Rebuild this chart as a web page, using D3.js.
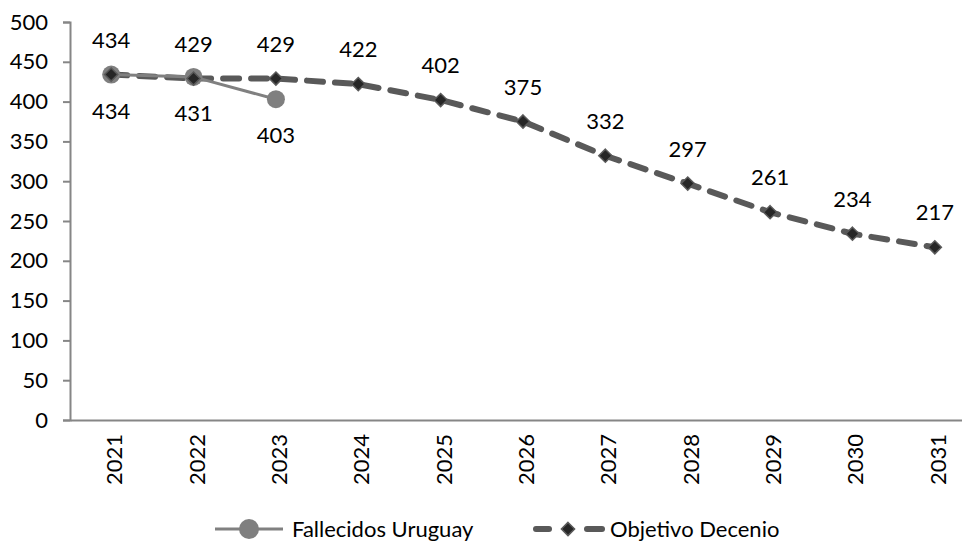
<!DOCTYPE html>
<html>
<head>
<meta charset="utf-8">
<script src="https://cdn.jsdelivr.net/npm/d3@7"></script>
<style>
  body { margin: 0; background: #fff; }
  text { font-family: Lato, "Open Sans", sans-serif; fill: #000; }
</style>
</head>
<body>
<script>
var years = ["2021", "2022", "2023", "2024", "2025", "2026", "2027", "2028", "2029", "2030", "2031"];
var fallecidos = [434, 431, 403];
var objetivo = [434, 429, 429, 422, 402, 375, 332, 297, 261, 234, 217];
var yTicks = [0, 50, 100, 150, 200, 250, 300, 350, 400, 450, 500];

var w = 962;
var h = 541;
var fs = "22px";

var svg = d3.select("body")
    .append("svg")
    .attr("width", w)
    .attr("height", h);

// plot area runs past the right edge, like the reference crop
var x = d3.scaleBand()
    .domain(years)
    .range([70, 976]);

var y = d3.scaleLinear()
    .domain([0, 500])
    .range([420, 22]);

function cx(d, i) { return x(years[i]) + x.bandwidth() / 2; }

// y axis
var yAxis = svg.append("g")
    .attr("transform", "translate(70,0)")
    .call(d3.axisLeft(y).tickValues(yTicks).tickSize(7).tickPadding(15));
yAxis.select(".domain").attr("stroke", "#868686").attr("stroke-width", 2);
yAxis.selectAll(".tick line").attr("stroke", "#868686").attr("stroke-width", 2);
yAxis.selectAll(".tick text").style("font-size", fs).attr("fill", "#000");

// x axis
var xAxis = svg.append("g")
    .attr("transform", "translate(0,420)")
    .call(d3.axisBottom(x).tickSize(0).tickSizeOuter(0));
xAxis.select(".domain").attr("stroke", "#868686").attr("stroke-width", 2);
xAxis.selectAll(".tick text")
    .style("font-size", fs)
    .attr("fill", "#000")
    .attr("text-anchor", "end")
    .attr("dx", 0)
    .attr("dy", 0)
    .attr("transform", "translate(8,14) rotate(-90)");

// Objetivo Decenio - dashed line with diamonds
var lineObj = d3.line()
    .x(cx)
    .y(function(d) { return y(d); });

svg.append("path")
    .attr("d", lineObj(objetivo))
    .attr("fill", "none")
    .attr("stroke", "#595959")
    .attr("stroke-width", 6)
    .attr("stroke-linecap", "round")
    .attr("stroke-dasharray", "16,12");

// Fallecidos Uruguay - solid line with circles
svg.append("path")
    .attr("d", lineObj(fallecidos))
    .attr("fill", "none")
    .attr("stroke", "#808080")
    .attr("stroke-width", 3);

svg.selectAll(".fcirc")
    .data(fallecidos)
    .enter().append("circle")
    .attr("class", "fcirc")
    .attr("cx", cx)
    .attr("cy", function(d) { return y(d); })
    .attr("r", 9)
    .attr("fill", "#7f7f7f");

var diamond = d3.symbol().type(d3.symbolDiamond2).size(110);

svg.selectAll(".odia")
    .data(objetivo)
    .enter().append("path")
    .attr("class", "odia")
    .attr("d", diamond)
    .attr("transform", function(d, i) { return "translate(" + cx(d, i) + "," + y(d) + ")"; })
    .attr("fill", "#262626")
    .attr("stroke", "#595959")
    .attr("stroke-width", 1.5);

// data labels
svg.selectAll(".olab")
    .data(objetivo)
    .enter().append("text")
    .attr("class", "olab")
    .attr("x", cx)
    .attr("y", function(d) { return y(d) - 27; })
    .attr("text-anchor", "middle")
    .style("font-size", fs)
    .text(function(d) { return d; });

svg.selectAll(".flab")
    .data(fallecidos)
    .enter().append("text")
    .attr("class", "flab")
    .attr("x", cx)
    .attr("y", function(d) { return y(d) + 44; })
    .attr("text-anchor", "middle")
    .style("font-size", fs)
    .text(function(d) { return d; });

// legend
var lg = svg.append("g").attr("transform", "translate(0,529)");
lg.append("line")
    .attr("x1", 215).attr("x2", 283)
    .attr("stroke", "#808080").attr("stroke-width", 3);
lg.append("circle")
    .attr("cx", 249).attr("r", 10).attr("fill", "#7f7f7f");
lg.append("text")
    .attr("x", 292).attr("dy", "0.35em")
    .style("font-size", fs)
    .text("Fallecidos Uruguay");

[[536, 549], [587, 602]].forEach(function(seg) {
    lg.append("line")
        .attr("x1", seg[0]).attr("x2", seg[1])
        .attr("stroke", "#595959").attr("stroke-width", 6)
        .attr("stroke-linecap", "round");
});
lg.append("path")
    .attr("d", diamond)
    .attr("transform", "translate(568,0)")
    .attr("fill", "#262626")
    .attr("stroke", "#595959")
    .attr("stroke-width", 1.5);
lg.append("text")
    .attr("x", 610).attr("dy", "0.35em")
    .style("font-size", fs)
    .text("Objetivo Decenio");
</script>
</body>
</html>
